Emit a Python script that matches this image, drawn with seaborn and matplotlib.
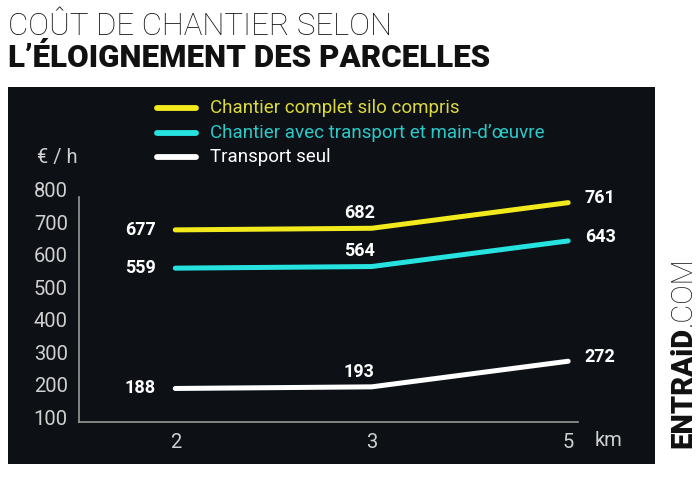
import matplotlib
matplotlib.use("Agg")
import matplotlib.pyplot as plt
import seaborn as sns
import pandas as pd
from matplotlib.patches import Rectangle

# ---- data ----
distances = ["2", "3", "5"]
series_names = [
    "Chantier complet silo compris",
    "Chantier avec transport et main-d\u2019œuvre",
    "Transport seul",
]
complet = [677, 682, 761]
avec_transport = [559, 564, 643]
transport_seul = [188, 193, 272]
y_ticks = [100, 200, 300, 400, 500, 600, 700, 800]

colors = ["#f2ea1d", "#27e3e0", "#ffffff"]
legend_text_colors = ["#dcd93a", "#2cc9c9", "#ffffff"]

values = [complet, avec_transport, transport_seul]
rows = []
for name, vals in zip(series_names, values):
    for i, (d, v) in enumerate(zip(distances, vals)):
        rows.append({"pos": i, "km": d, "serie": name, "val": v})
df = pd.DataFrame(rows)

sns.set_theme(style="white")
FONT = ["Roboto", "DejaVu Sans"]
plt.rcParams["font.family"] = FONT

W, H = 700, 479
fig = plt.figure(figsize=(7, 4.79), dpi=100, facecolor="white")

def fx(px):
    return px / W

def fy(py):
    return 1 - py / H

# dark panel
fig.patches.append(Rectangle((fx(8), fy(464)), fx(655) - fx(8), fy(87) - fy(464),
                             transform=fig.transFigure, facecolor="#0d1015",
                             edgecolor="none", zorder=-5))

# title
fig.text(fx(8), fy(35), "COÛT DE CHANTIER SELON",
         fontweight="light", fontsize=22.5, color="#111111", va="baseline", ha="left")
fig.text(fx(8), fy(67), "L\u2019ÉLOIGNEMENT DES PARCELLES",
         fontweight="heavy", fontsize=22.5, color="#111111", va="baseline", ha="left")

# axes region
ax = fig.add_axes([fx(79), fy(422), fx(578) - fx(79), fy(190) - fy(422)])
ax.set_facecolor("none")
ax.set_zorder(2)

sns.lineplot(data=df, x="pos", y="val", hue="serie", hue_order=series_names,
             palette=colors, linewidth=3.6, ax=ax, legend=False, sort=False,
             solid_capstyle="round")

ax.set_xlim(-0.49, 2.05)
ax.set_ylim(84.6, 800)
ax.set_xticks(range(len(distances)))
ax.set_xticklabels(distances)
ax.set_yticks(y_ticks)
ax.set_yticklabels([str(t) for t in y_ticks])
ax.tick_params(axis="both", length=0, colors="#d0d0d0", labelsize=14.5)
ax.tick_params(axis="y", pad=8)
ax.tick_params(axis="x", pad=8)
ax.set_xlabel("")
ax.set_ylabel("")
for s in ["top", "right"]:
    ax.spines[s].set_visible(False)
for s in ["left", "bottom"]:
    ax.spines[s].set_color("#9a9a9a")
    ax.spines[s].set_linewidth(1.2)
ax.spines["left"].set_bounds(84.6, 778)

# value labels
lab_kw = dict(textcoords="offset points", color="white", fontsize=13,
              fontweight="bold", va="center")
for vals in values:
    ax.annotate(str(vals[0]), (0, vals[0]), xytext=(-14, 0), ha="right", **lab_kw)
    ax.annotate(str(vals[1]), (1, vals[1]), xytext=(-9, 11), ha="center", **lab_kw)
    ax.annotate(str(vals[2]), (2, vals[2]), xytext=(12, 3), ha="left", **lab_kw)

# units
fig.text(fx(57), fy(157), "€ / h", color="#d0d0d0", fontsize=14.5, ha="center", va="center")
fig.text(fx(609), fy(440), "km", color="#d0d0d0", fontsize=14.5, ha="center", va="center")

# legend (manual)
leg_y = [108, 133, 157]
for name, c, tc, yy in zip(series_names, colors, legend_text_colors, leg_y):
    fig.add_artist(plt.Line2D([fx(157), fx(196)], [fy(yy), fy(yy)], color=c,
                              linewidth=4.2, solid_capstyle="round",
                              transform=fig.transFigure))
    fig.text(fx(210), fy(yy), name, color=tc, fontsize=13.5, ha="left", va="center")

# brand
brand = fig.text(fx(683), fy(448), "ENTRAiD", rotation=90, rotation_mode="anchor",
                 fontweight="heavy", fontsize=21, color="#111111", ha="left", va="center")
fig.canvas.draw()
bb = brand.get_window_extent(renderer=fig.canvas.get_renderer())
fig.text(fx(683), (bb.y1 + 1) / (H * fig.dpi / 100), ".COM", rotation=90,
         rotation_mode="anchor", fontweight="light", fontsize=21, color="#111111",
         ha="left", va="center")

fig.savefig("out.png", dpi=100, facecolor="white")
